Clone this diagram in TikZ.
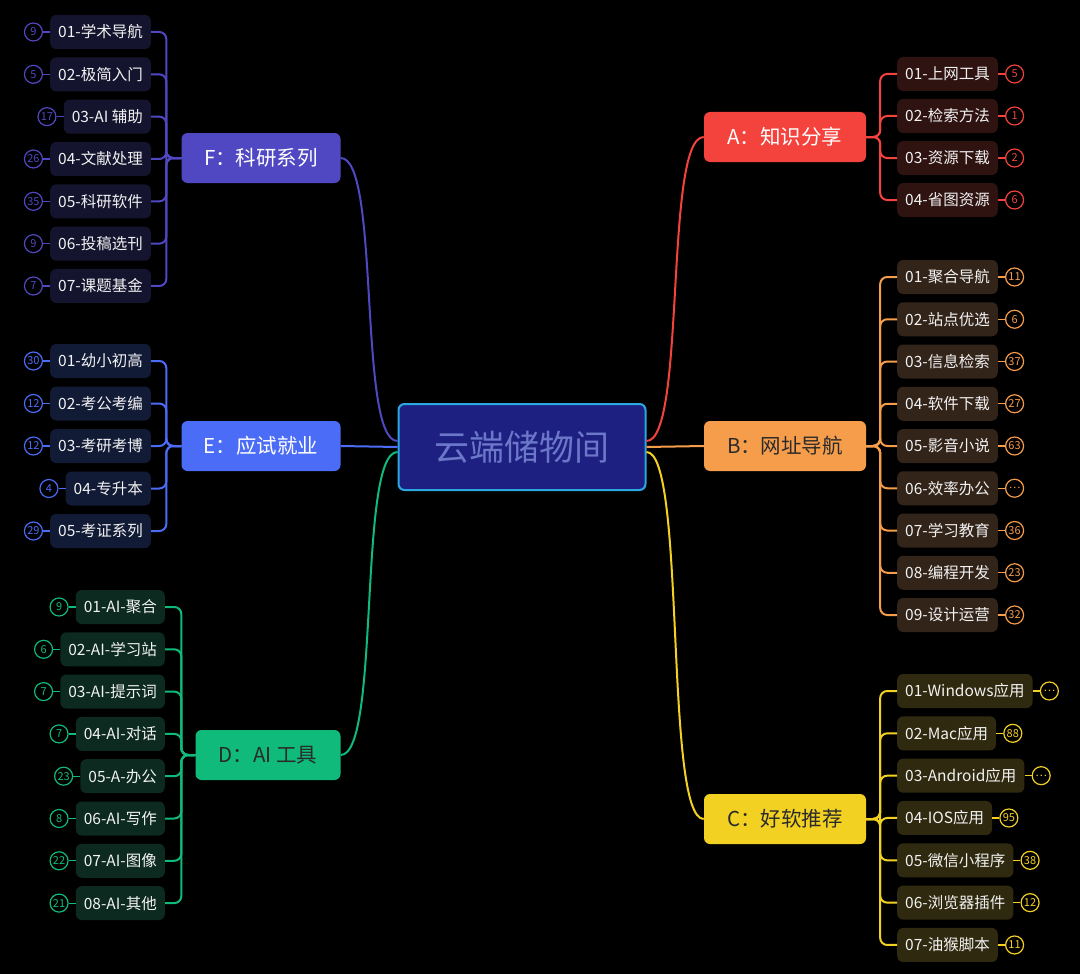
\documentclass[tikz,border=0pt]{standalone}
\usepackage{fontspec}
\setmainfont{Noto Sans CJK SC}
\usepackage{tikz}
\usetikzlibrary{positioning,calc}
\definecolor{ared}{HTML}{F4433C}
\definecolor{aleaf}{HTML}{2E1311}
\definecolor{borange}{HTML}{F59D4B}
\definecolor{bleaf}{HTML}{33241A}
\definecolor{cyellow}{HTML}{F3D122}
\definecolor{cleaf}{HTML}{2F2A0F}
\definecolor{fpurple}{HTML}{5048C2}
\definecolor{fleaf}{HTML}{15142F}
\definecolor{eblue}{HTML}{4B6CF6}
\definecolor{eleaf}{HTML}{121B36}
\definecolor{dgreen}{HTML}{0FBA7A}
\definecolor{dleaf}{HTML}{0C2A1F}
\definecolor{rootfill}{HTML}{1D2080}
\definecolor{rootline}{HTML}{2BA8E2}
\definecolor{roottext}{HTML}{6B77C9}
\definecolor{leaftext}{HTML}{F2F2F2}
\definecolor{darktext}{HTML}{2A2A2A}

\begin{document}
\begin{tikzpicture}[
  x=1pt, y=-1pt,
  root/.style={draw=rootline, line width=2pt, fill=rootfill, rounded corners=6pt,
               minimum width=247pt, minimum height=86pt, text=roottext,
               font=\fontsize{35}{40}\selectfont},
  branch/.style={rounded corners=6pt, minimum height=50pt, minimum width=162pt,
                 font=\fontsize{20.5}{24}\selectfont},
  leaf/.style={rounded corners=6pt, minimum height=34pt, inner xsep=8pt,
               text=leaftext, font=\fontsize{15.5}{18}\selectfont},
  badge/.style={circle, draw, line width=1.2pt, fill=black, minimum size=18pt,
                inner sep=0pt, font=\fontsize{11}{11}\selectfont},
  link/.style={line width=2pt, rounded corners=7pt},
  tick/.style={line width=1.2pt}
]
\useasboundingbox (0,0) rectangle (1080,974);
\fill[black] (0,0) rectangle (1080,974);

\node[root] (root) at (522,447) {云端储物间};

\node[branch, fill=ared, text=white] (A) at (785,137) {A：知识分享};
\node[branch, fill=borange, text=darktext] (B) at (785,446) {B：网址导航};
\node[branch, fill=cyellow, text=darktext] (C) at (785,819) {C：好软推荐};
\node[branch, fill=dgreen, text=darktext, minimum width=145pt] (D) at (268,755) {D：AI 工具};
\node[branch, fill=eblue, text=white, minimum width=159pt] (E) at (261,446) {E：应试就业};
\node[branch, fill=fpurple, text=white, minimum width=159pt] (F) at (261,158) {F：科研系列};

% main branches
\draw[link, ared] ([yshift=6pt]root.east) .. controls +(40,0) and +(-40,0) .. (A.west);
\draw[link, borange] (root.east) -- (B.west);
\draw[link, cyellow] ([yshift=-5pt]root.east) .. controls +(40,0) and +(-40,0) .. (C.west);
\draw[link, fpurple] ([yshift=6pt]root.west) .. controls +(-40,0) and +(40,0) .. (F.east);
\draw[link, eblue] (root.west) -- (E.east);
\draw[link, dgreen] ([yshift=-5pt]root.west) .. controls +(-40,0) and +(40,0) .. (D.east);

% A leaves
\foreach \t/\n [count=\i] in {01-上网工具/5, 02-检索方法/1, 03-资源下载/2, 04-省图资源/6} {
  \node[leaf, fill=aleaf, anchor=west] (a\i) at (897,{74+42*(\i-1)}) {\t};
  \node[badge, draw=ared, text=ared, right=7pt of a\i] (ab\i) {\n};
  \draw[link, ared] (A.east) -- ++(14,0) |- (a\i.west);
  \draw[tick, ared] (a\i) -- (ab\i);
}

% B leaves
\foreach \t/\n [count=\i] in {01-聚合导航/11, 02-站点优选/6, 03-信息检索/37, 04-软件下载/27,
    05-影音小说/63, 06-效率办公/…, 07-学习教育/36, 08-编程开发/23, 09-设计运营/32} {
  \node[leaf, fill=bleaf, anchor=west] (b\i) at (897,{277+42.25*(\i-1)}) {\t};
  \node[badge, draw=borange, text=borange, right=7pt of b\i] (bb\i) {\n};
  \draw[link, borange] (B.east) -- ++(14,0) |- (b\i.west);
  \draw[tick, borange] (b\i) -- (bb\i);
}

% C leaves
\foreach \t/\n [count=\i] in {01-Windows应用/…, 02-Mac应用/88, 03-Android应用/…, 04-IOS应用/95,
    05-微信小程序/38, 06-浏览器插件/12, 07-油猴脚本/11} {
  \node[leaf, fill=cleaf, anchor=west] (c\i) at (897,{691+42.33*(\i-1)}) {\t};
  \node[badge, draw=cyellow, text=cyellow, right=7pt of c\i] (cb\i) {\n};
  \draw[link, cyellow] (C.east) -- ++(14,0) |- (c\i.west);
  \draw[tick, cyellow] (c\i) -- (cb\i);
}

% F leaves
\foreach \t/\n [count=\i] in {01-学术导航/9, 02-极简入门/5, 03-AI 辅助/17, 04-文献处理/26,
    05-科研软件/35, 06-投稿选刊/9, 07-课题基金/7} {
  \node[leaf, fill=fleaf, anchor=east] (f\i) at (151,{32+42.33*(\i-1)}) {\t};
  \node[badge, draw=fpurple, text=fpurple, left=7pt of f\i] (fb\i) {\n};
  \draw[link, fpurple] (F.west) -- ++(-15,0) |- (f\i.east);
  \draw[tick, fpurple] (f\i) -- (fb\i);
}

% E leaves
\foreach \t/\n [count=\i] in {01-幼小初高/30, 02-考公考编/12, 03-考研考博/12, 04-专升本/4, 05-考证系列/29} {
  \node[leaf, fill=eleaf, anchor=east] (e\i) at (151,{361+42.5*(\i-1)}) {\t};
  \node[badge, draw=eblue, text=eblue, left=7pt of e\i] (eb\i) {\n};
  \draw[link, eblue] (E.west) -- ++(-15,0) |- (e\i.east);
  \draw[tick, eblue] (e\i) -- (eb\i);
}

% D leaves
\foreach \t/\n [count=\i] in {01-AI-聚合/9, 02-AI-学习站/6, 03-AI-提示词/7, 04-AI-对话/7,
    05-A-办公/23, 06-AI-写作/8, 07-AI-图像/22, 08-AI-其他/21} {
  \node[leaf, fill=dleaf, anchor=east] (d\i) at (165,{607+42.3*(\i-1)}) {\t};
  \node[badge, draw=dgreen, text=dgreen, left=7pt of d\i] (db\i) {\n};
  \draw[link, dgreen] (D.west) -- ++(-14,0) |- (d\i.east);
  \draw[tick, dgreen] (d\i) -- (db\i);
}
\end{tikzpicture}
\end{document}
